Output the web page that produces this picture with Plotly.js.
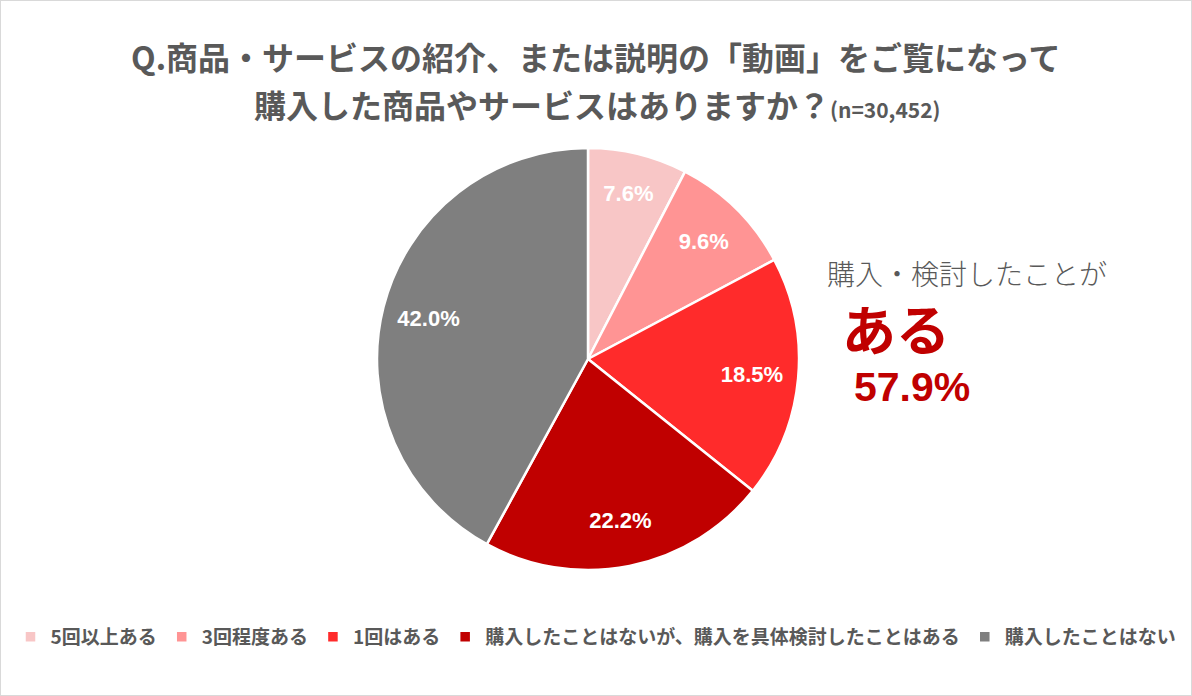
<!DOCTYPE html>
<html>
<head>
<meta charset="utf-8">
<script src="https://cdn.plot.ly/plotly-3.0.1.min.js"></script>
<style>
html,body{margin:0;padding:0;background:#fff;}
#chart{width:1192px;height:696px;}
</style>
</head>
<body>
<div id="chart"></div>
<script>
const categories = ["5回以上ある", "3回程度ある", "1回はある", "購入したことはないが、購入を具体検討したことはある", "購入したことはない"];
const values = [7.6, 9.6, 18.5, 22.2, 42.0];
const colors = ["#F8C6C6", "#FF9494", "#FF2B2B", "#C00000", "#7F7F7F"];
const titleLine1 = "Q.商品・サービスの紹介、または説明の「動画」をご覧になって";
const titleLine2 = "購入した商品やサービスはありますか？";
const sampleNote = "(n=30,452)";
const calloutLead = "購入・検討したことが";
const calloutWord = "ある";
const calloutValue = "57.9%";

const FONT = '"Noto Sans CJK JP", "Noto Sans", sans-serif';
const pieDomain = {x: [377/1192, 799/1192], y: [126/696, 548/696]};

const pieTrace = {
  type: "pie",
  labels: categories,
  values: values,
  sort: false,
  direction: "clockwise",
  rotation: 0,
  marker: {colors: colors, line: {color: "#FFFFFF", width: 2.5}},
  textinfo: "none",
  hoverinfo: "label+value",
  domain: pieDomain
};

// transparent ring used only to place the value labels farther out
const labelTrace = {
  type: "pie",
  labels: categories,
  values: values,
  sort: false,
  direction: "clockwise",
  rotation: 0,
  hole: 0.56,
  showlegend: false,
  marker: {colors: colors.map(() => "rgba(0,0,0,0)"), line: {width: 0}},
  texttemplate: "%{value:.1f}%",
  textposition: "inside",
  insidetextorientation: "horizontal",
  textfont: {family: "Arial, Liberation Sans, sans-serif", size: 22, color: "#FFFFFF", weight: "bold"},
  hoverinfo: "skip",
  domain: pieDomain
};

const layout = {
  width: 1192,
  height: 696,
  margin: {l: 0, r: 0, t: 0, b: 0},
  paper_bgcolor: "#FFFFFF",
  showlegend: true,
  legend: {
    orientation: "h",
    x: 0.5, xanchor: "center",
    y: (696-637)/696, yanchor: "middle",
    font: {family: FONT, size: 19, color: "#595959", weight: "bold"},
    itemwidth: 30,
    traceorder: "normal"
  },
  annotations: [
    {text: "<b>" + titleLine1 + "</b>", xref: "paper", yref: "paper", x: 595/1192, y: (696-56)/696,
     xanchor: "center", yanchor: "middle", showarrow: false,
     font: {family: FONT, size: 32, color: "#595959"}},
    {text: "<b>" + titleLine2 + "</b><b><span style='font-size:21px'>" + sampleNote + "</span></b>", xref: "paper", yref: "paper", x: 597/1192, y: (696-104)/696,
     xanchor: "center", yanchor: "middle", showarrow: false,
     font: {family: FONT, size: 32, color: "#595959"}},
    {text: calloutLead, xref: "paper", yref: "paper", x: 967/1192, y: (696-273)/696,
     xanchor: "center", yanchor: "middle", showarrow: false,
     font: {family: FONT, size: 28, color: "#595959", weight: 300}},
    {text: "<b>" + calloutWord + "</b>", xref: "paper", yref: "paper", x: 896/1192, y: (696-327)/696,
     xanchor: "center", yanchor: "middle", showarrow: false,
     font: {family: FONT, size: 54, color: "#C00000"}},
    {text: "<b>" + calloutValue + "</b>", xref: "paper", yref: "paper", x: 912/1192, y: (696-387)/696,
     xanchor: "center", yanchor: "middle", showarrow: false,
     font: {family: "Arial, Liberation Sans, sans-serif", size: 41, color: "#C00000"}}
  ],
  shapes: [
    {type: "rect", xref: "paper", yref: "paper", x0: 0, y0: 0, x1: 1, y1: 1,
     line: {color: "#D9D9D9", width: 2}, fillcolor: "rgba(0,0,0,0)"}
  ]
};

Plotly.newPlot("chart", [pieTrace, labelTrace], layout, {displayModeBar: false, staticPlot: true});
</script>
</body>
</html>
